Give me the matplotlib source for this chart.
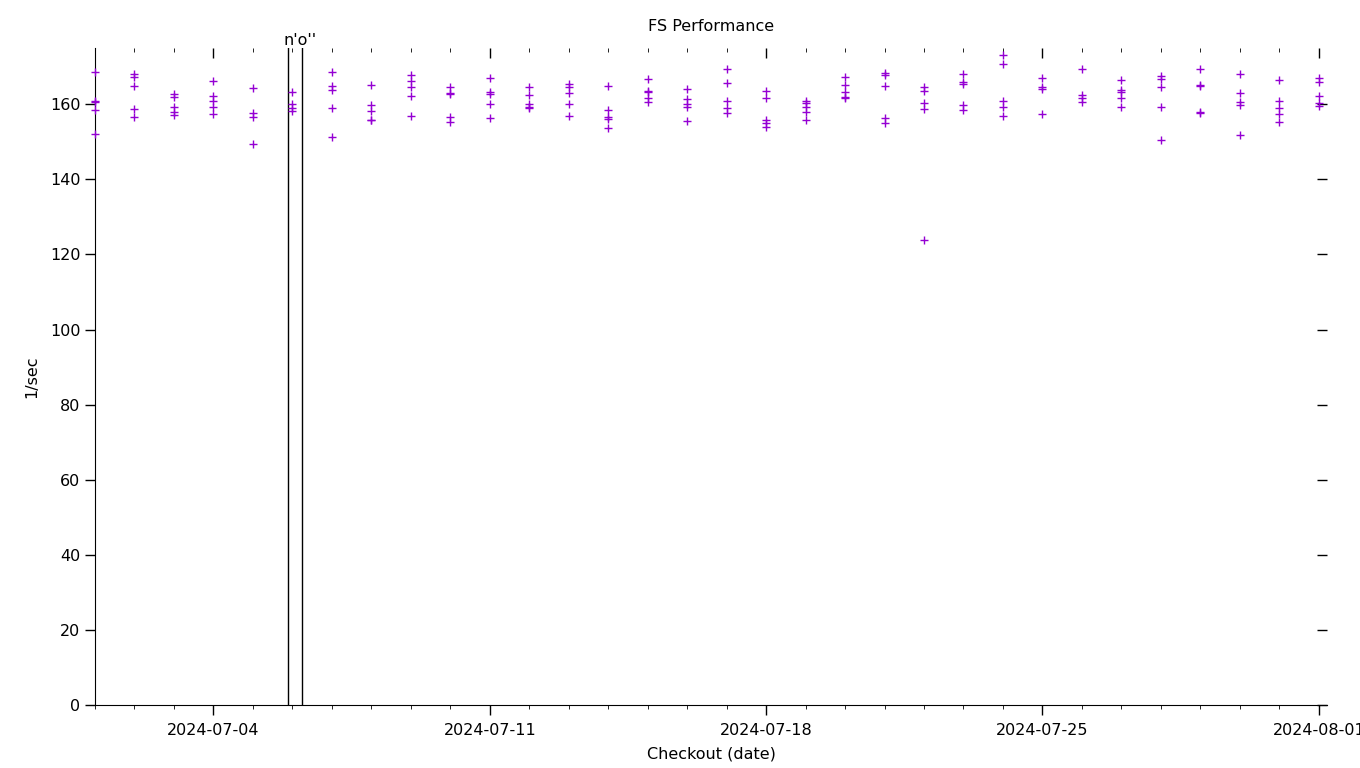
import numpy as np
import pandas as pd
import matplotlib
matplotlib.use("Agg")
import matplotlib.pyplot as plt
import matplotlib.dates as mdates

# checkout dates and the runs measured on each one (1/sec)
days = pd.date_range("2024-07-01", "2024-08-01", freq="D")
runs = [
    [168.6, 160.9, 160.6, 158.6, 152.1],
    [168.0, 167.2, 164.9, 158.7, 156.5],
    [162.7, 161.9, 159.4, 157.9, 157.1],
    [166.2, 162.3, 160.9, 159.2, 157.3],
    [164.3, 157.8, 156.5, 149.4],
    [163.2, 160.2, 159.1, 158.1],
    [168.7, 164.8, 163.8, 159.0, 151.3],
    [165.2, 159.9, 158.1, 155.9, 155.7],
    [167.8, 166.2, 164.6, 162.2, 156.8],
    [164.7, 163.0, 162.7, 156.7, 155.4],
    [167.0, 163.4, 162.7, 160.0, 156.3],
    [164.6, 162.4, 160.1, 159.2, 159.0],
    [165.5, 164.6, 163.0, 160.0, 156.8],
    [164.8, 158.5, 156.7, 156.1, 153.7],
    [166.8, 163.5, 163.3, 161.6, 160.7],
    [164.0, 161.4, 160.0, 159.2, 155.6],
    [169.3, 165.6, 160.8, 158.9, 157.8],
    [163.5, 161.6, 155.9, 155.0, 154.0],
    [161.0, 160.4, 159.2, 157.9, 155.8],
    [167.2, 165.2, 163.4, 161.9, 161.7],
    [168.3, 167.9, 164.8, 156.4, 155.0],
    [164.7, 163.6, 160.3, 158.7, 123.9],
    [168.0, 165.9, 165.3, 159.8, 158.6],
    [173.2, 170.8, 160.8, 159.3, 156.8],
    [166.9, 164.7, 164.1, 157.5],
    [169.4, 162.4, 161.7, 160.6],
    [166.4, 163.9, 163.4, 161.6, 159.2],
    [167.5, 166.7, 164.6, 159.2, 150.5],
    [169.4, 165.1, 164.9, 157.9, 157.7],
    [168.0, 163.0, 160.7, 159.8, 151.8],
    [166.4, 160.9, 159.0, 157.3, 155.2],
    [167.1, 166.0, 162.3, 160.3, 159.5],
]
week_ticks = ["2024-07-04", "2024-07-11", "2024-07-18", "2024-07-25", "2024-08-01"]
markers = ["2024-07-05 21:15", "2024-07-06 05:45"]
marker_label = "n'o''"

x = [d for d, r in zip(days, runs) for _ in r]
y = [v for r in runs for v in r]

fig = plt.figure(figsize=(13.6, 7.68), dpi=100)
ax = fig.add_axes([95 / 1360, 63 / 768, 1232 / 1360, 657 / 768])
fs = 11.5

ax.scatter(x, y, marker="+", s=40, color="#9400D3", linewidths=1.0, zorder=3, clip_on=False)

for m in markers:
    ax.axvline(pd.Timestamp(m), color="black", lw=1)
mid = pd.Timestamp(markers[0]) + (pd.Timestamp(markers[1]) - pd.Timestamp(markers[0])) / 2
ax.text(mid + pd.Timedelta(hours=3), 175.0, marker_label, ha="center", va="bottom", fontsize=fs)

ax.set_xlim(pd.Timestamp("2024-07-01"), pd.Timestamp("2024-08-01 05:00"))
ax.set_ylim(0, 175)

ax.set_xticks(pd.to_datetime(week_ticks))
ax.xaxis.set_minor_locator(mdates.DayLocator())
ax.xaxis.set_major_formatter(mdates.DateFormatter("%Y-%m-%d"))
ax.set_yticks(np.arange(0, 161, 20))

for s in ["top", "right"]:
    ax.spines[s].set_visible(False)
ax.tick_params(axis="both", labelsize=fs, width=1, colors="black")
ax.tick_params(axis="x", which="major", direction="out", length=7, top=True)
ax.tick_params(axis="x", which="minor", direction="out", length=3, top=True)
ax.tick_params(axis="y", which="major", direction="out", length=7, right=True)
ax.xaxis.set_tick_params(which="major", pad=6)

# gnuplot-style mirror ticks: inward on top and right
for t in ax.xaxis.get_major_ticks():
    t.tick2line.set_marker(matplotlib.lines.TICKDOWN)
    t.tick2line.set_markersize(7)
for t in ax.xaxis.get_minor_ticks():
    t.tick2line.set_marker(matplotlib.lines.TICKDOWN)
    t.tick2line.set_markersize(3)
for t in ax.yaxis.get_major_ticks():
    t.tick2line.set_marker(matplotlib.lines.TICKLEFT)
    t.tick2line.set_markersize(7)

ax.set_title("FS Performance", fontsize=fs, pad=12)
ax.set_xlabel("Checkout (date)", fontsize=fs, labelpad=6)
ax.set_ylabel("1/sec", fontsize=fs, labelpad=8)

fig.savefig("out.png", dpi=100)
